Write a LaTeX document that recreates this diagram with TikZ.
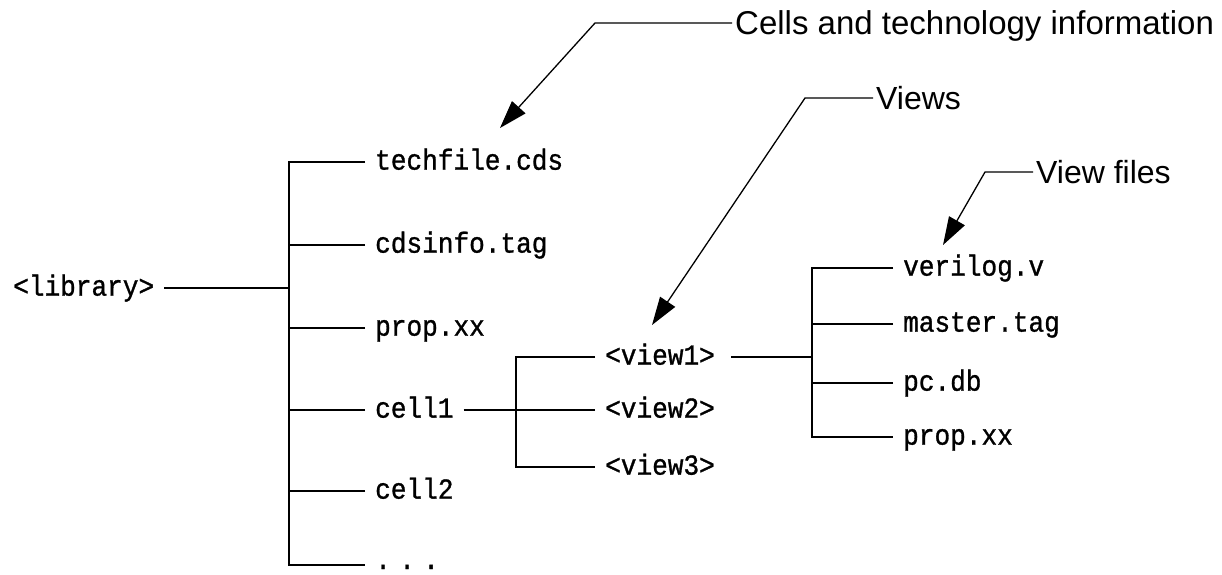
\documentclass[tikz,border=0pt]{standalone}
\usepackage{fontspec}
\setmainfont{Liberation Sans}
\newfontfamily\monofont[FakeStretch=0.9,FakeBold=1]{Liberation Mono}
\usetikzlibrary{arrows.meta}
\begin{document}
\begin{tikzpicture}[x=1pt,y=-1pt,
  tree/.style={line width=2pt},
  lead/.style={line width=1.3pt,-{Triangle[length=28pt,width=18pt]}},
  file/.style={font=\monofont\fontsize{29pt}{34pt}\selectfont,inner xsep=10pt,inner ysep=0pt,
    text height=15.3pt,text depth=0pt,anchor=west},
  note/.style={font=\fontsize{32pt}{38pt}\selectfont,inner xsep=3pt,inner ysep=0pt,
    text height=22.9pt,text depth=0pt,anchor=west}]
\useasboundingbox (0,0) rectangle (1222,574);

% main tree
\node[file] (lib) at (3,288) {<library>};
\coordinate (T) at (289,288);
\node[file] (techfile) at (365,162) {techfile.cds};
\node[file] (cdsinfo) at (365,245) {cdsinfo.tag};
\node[file] (prop) at (365,328) {prop.xx};
\node[file] (cell1) at (365,410) {cell1};
\node[file] (cell2) at (365,491) {cell2};
\node[file,text height=8pt] (dots) at (365,565) {.\hspace{8.4pt}.\hspace{8.4pt}.};

\draw[tree] (lib.east) -- (T);
\draw[tree] (techfile.west) -- (techfile.west -| T) -- (dots.west -| T) -- (dots.west);
\draw[tree] (cdsinfo.west) -- (cdsinfo.west -| T);
\draw[tree] (prop.west) -- (prop.west -| T);
\draw[tree] (cell1.west) -- (cell1.west -| T);
\draw[tree] (cell2.west) -- (cell2.west -| T);

% views
\coordinate (S) at (516,410);
\node[file] (view1) at (595,357) {<view1>};
\node[file] (view2) at (595,410) {<view2>};
\node[file] (view3) at (595,467) {<view3>};
\draw[tree] (cell1.east) -- (S);
\draw[tree] (view1.west) -- (view1.west -| S) -- (view3.west -| S) -- (view3.west);
\draw[tree] (view2.west) -- (view2.west -| S);

% view files
\coordinate (R) at (812,357);
\node[file] (verilog) at (893,268) {verilog.v};
\node[file] (master) at (893,324) {master.tag};
\node[file] (pcdb) at (893,383) {pc.db};
\node[file] (vprop) at (893,437) {prop.xx};
\draw[tree,shorten <=6pt] (view1.east) -- (R);
\draw[tree] (verilog.west) -- (verilog.west -| R) -- (vprop.west -| R) -- (vprop.west);
\draw[tree] (master.west) -- (master.west -| R);
\draw[tree] (pcdb.west) -- (pcdb.west -| R);

% annotations
\node[note,font=\fontsize{33pt}{38pt}\selectfont] (cells) at (732,23) {Cells and technology information};
\coordinate (c1) at (595,23);
\coordinate (c1tip) at (500,128);
\draw[lead] (cells.west) -- (c1) -- (c1tip);

\node[note] (views) at (873,98) {Views};
\coordinate (c2) at (805,98);
\coordinate (c2tip) at (652,325);
\draw[lead] (views.west) -- (c2) -- (c2tip);

\node[note] (vfiles) at (1033,172) {View files};
\coordinate (c3) at (985,172);
\coordinate (c3tip) at (943,245);
\draw[lead] (vfiles.west) -- (c3) -- (c3tip);
\end{tikzpicture}
\end{document}
